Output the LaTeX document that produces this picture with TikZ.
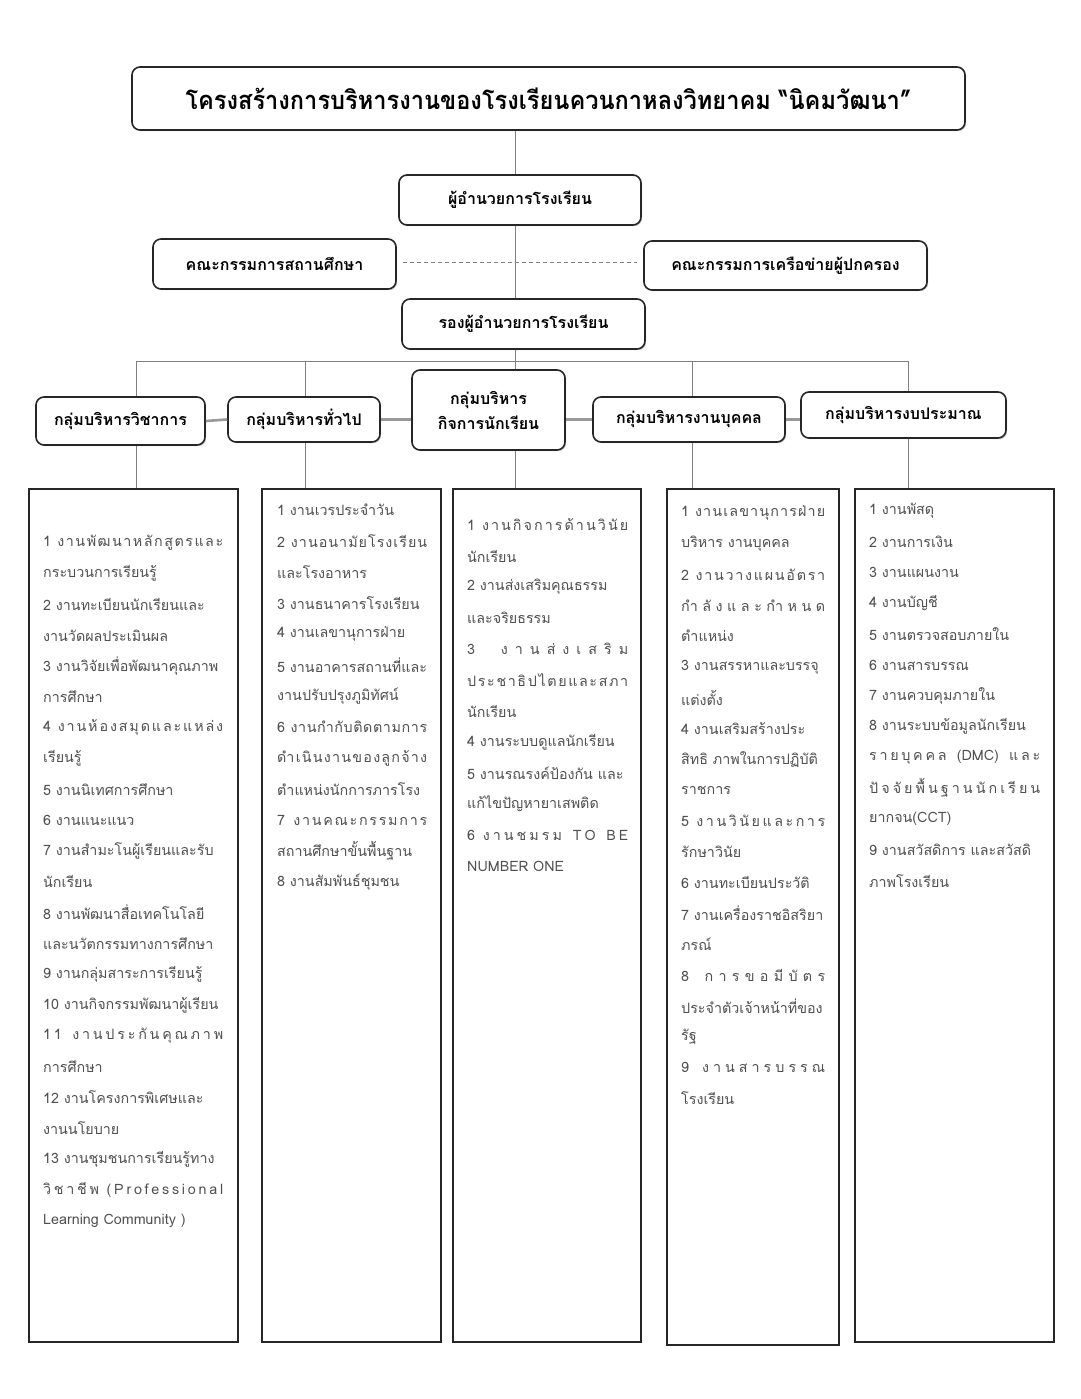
\documentclass[tikz,border=0pt]{standalone}
\usepackage{fontspec}
\setmainfont[Script=Thai]{Loma}
\usetikzlibrary{shadows}
\definecolor{txtgray}{HTML}{505050}
\definecolor{linegray}{HTML}{808080}
\def\J{\hfill}
\begin{document}
\begin{tikzpicture}[x=1pt,y=-1pt,
  rbox/.style={draw=black!85, line width=1.6pt, rounded corners=8pt, fill=white,
     drop shadow={shadow xshift=1.2pt, shadow yshift=-1.2pt, fill=black!35, opacity=0.6},
     font=\bfseries\fontsize{16}{19}\selectfont, align=center, inner sep=2pt},
  lbox/.style={draw=black!85, line width=1.6pt, fill=white},
  lt/.style={anchor=west, inner sep=0pt, text=txtgray, font=\fontsize{14.3}{16}\selectfont},
  thin/.style={draw=linegray, line width=0.9pt},
  glink/.style={draw=black!40, line width=2.6pt}
]
\useasboundingbox (0,0) rectangle (1080,1399);
\fill[white] (0,0) rectangle (1080,1399);

\coordinate (trunk) at (515,0);
\coordinate (busL) at (136,361);
\coordinate (busR) at (908,361);
\coordinate (b2) at (305,361);
\coordinate (b4) at (692,361);

% connectors first (under boxes)
\path (548.5,130) coordinate (tS) (515,175) coordinate (dN);
% title and top nodes
\node[rbox, minimum width=833pt, minimum height=63pt, font=\bfseries\fontsize{25.5}{29}\selectfont] (title) at (548.5,98.5) {\scalebox{0.925}[1]{โครงสร้างการบริหารงานของโรงเรียนควนกาหลงวิทยาคม “นิคมวัฒนา”}};
\node[rbox, minimum width=243pt, minimum height=50pt] (cL) at (274.5,264) {คณะกรรมการสถานศึกษา};
\node[rbox, minimum width=283pt, minimum height=49pt] (cR) at (785.5,265.5) {คณะกรรมการเครือข่ายผู้ปกครอง};
\path (cL.east) ++(6,-2) coordinate (dA);
\path (cR.west) ++(-6,-3.5) coordinate (dB);
\draw[thin, dash pattern=on 4pt off 3pt] (dA) -- (dB);
\draw[thin] (title.south -| trunk) -- (515,175) coordinate (dirtop);
\draw[thin] (515,225) coordinate (dirbot) -- (515,299);
\draw[thin] (515,349) -- (515,370);
\draw[thin] (busL) -- (busR);

\node[rbox, minimum width=242pt, minimum height=50pt] (dir) at (520,200) {ผู้อำนวยการโรงเรียน};
\node[rbox, minimum width=243pt, minimum height=50pt] (dep) at (523.5,324) {รองผู้อำนวยการโรงเรียน};

% groups
\node[rbox, minimum width=169pt, minimum height=48pt] (g1) at (120.5,421) {กลุ่มบริหารวิชาการ};
\node[rbox, minimum width=152pt, minimum height=45pt] (g2) at (304,419.5) {กลุ่มบริหารทั่วไป};
\node[rbox, minimum width=153pt, minimum height=80pt, align=center] (g3) at (488.5,410) {กลุ่มบริหาร\\[6pt]กิจการนักเรียน};
\node[rbox, minimum width=192pt, minimum height=45pt] (g4) at (689,419.5) {กลุ่มบริหารงานบุคคล};
\node[rbox, minimum width=205pt, minimum height=46pt] (g5) at (903.5,415) {กลุ่มบริหารงบประมาณ};

% list boxes
\node[lbox, minimum width=209pt, minimum height=853pt] (l1) at (133.5,915.5) {};
\node[lbox, minimum width=179pt, minimum height=853pt] (l2) at (351.5,915.5) {};
\node[lbox, minimum width=188pt, minimum height=853pt] (l3) at (547,915.5) {};
\node[lbox, minimum width=172pt, minimum height=856pt] (l4) at (753,917) {};
\node[lbox, minimum width=199pt, minimum height=853pt] (l5) at (954.5,915.5) {};

% connectors
\draw[thin] (busL) -- (g1.north -| busL);
\draw[thin] (b2) -- (g2.north -| b2);
\draw[thin] (b4) -- (g4.north -| b4);
\draw[thin] (busR) -- (g5.north -| busR);
\draw[glink] (g1.east) -- (g2.west);
\draw[glink] (g2.east) -- (g3.west |- g2.east);
\draw[glink] (g3.east |- g4.west) -- (g4.west);
\draw[glink] (g4.east) -- (g5.west |- g4.east);
\draw[thin] (g1.south -| busL) -- (l1.north -| busL);
\draw[thin] (g2.south -| b2) -- (l2.north -| b2);
\draw[thin] (g3.south -| trunk) -- (l3.north -| trunk);
\draw[thin] (g4.south -| b4) -- (l4.north -| b4);
\draw[thin] (g5.south -| busR) -- (l5.north -| busR);

% column 1
\foreach \t [count=\i] in {
 {\makebox[180pt][s]{1\ \J ง\J า\J น\J พั\J ฒ\J น\J า\J ห\J ลั\J ก\J สู\J ต\J ร\J แ\J ล\J ะ}},
 {กระบวนการเรียนรู้},
 {2 งานทะเบียนนักเรียนและ},
 {งานวัดผลประเมินผล},
 {3 งานวิจัยเพื่อพัฒนาคุณภาพ},
 {การศึกษา},
 {\makebox[180pt][s]{4\ \J ง\J า\J น\J ห้\J อ\J ง\J ส\J มุ\J ด\J แ\J ล\J ะ\J แ\J ห\J ล่\J ง}},
 {เรียนรู้},
 {5 งานนิเทศการศึกษา},
 {6 งานแนะแนว},
 {7 งานสำมะโนผู้เรียนและรับ},
 {นักเรียน},
 {8 งานพัฒนาสื่อเทคโนโลยี},
 {และนวัตกรรมทางการศึกษา},
 {9 งานกลุ่มสาระการเรียนรู้},
 {10 งานกิจกรรมพัฒนาผู้เรียน},
 {\makebox[180pt][s]{1\J 1\ \J \J ง\J า\J น\J ป\J ร\J ะ\J กั\J น\J คุ\J ณ\J ภ\J า\J พ}},
 {การศึกษา},
 {12 งานโครงการพิเศษและ},
 {งานนโยบาย},
 {13 งานชุมชนการเรียนรู้ทาง},
 {\makebox[180pt][s]{วิ\J ช\J า\J ชี\J พ\ \J (\J P\J r\J o\J f\J e\J s\J s\J i\J o\J n\J a\J l}},
 {Learning Community )}}
 \node[lt] (c1-\i) at (43, 543+\i*30.8-30.8) {\t};

% column 2
\foreach \t [count=\i] in {
 {1 งานเวรประจำวัน},
 {\makebox[150pt][s]{2\ \J ง\J า\J น\J อ\J น\J า\J มั\J ย\J โ\J ร\J ง\J เ\J รี\J ย\J น}},
 {และโรงอาหาร},
 {3 งานธนาคารโรงเรียน},
 {4 งานเลขานุการฝ่าย},
 {5 งานอาคารสถานที่และ},
 {งานปรับปรุงภูมิทัศน์},
 {\makebox[150pt][s]{6\ \J ง\J า\J น\J กำ\J กั\J บ\J ติ\J ด\J ต\J า\J ม\J ก\J า\J ร}},
 {\makebox[150pt][s]{ดำ\J เ\J นิ\J น\J ง\J า\J น\J ข\J อ\J ง\J ลู\J ก\J จ้\J า\J ง}},
 {ตำแหน่งนักการภารโรง},
 {\makebox[150pt][s]{7\ \J \J ง\J า\J น\J ค\J ณ\J ะ\J ก\J ร\J ร\J ม\J ก\J า\J ร}},
 {สถานศึกษาขั้นพื้นฐาน},
 {8 งานสัมพันธ์ชุมชน}}
 \node[lt] (c2-\i) at (277, 510+\i*31-31) {\t};

% column 3
\foreach \t [count=\i] in {
 {\makebox[161pt][s]{1\ \J ง\J า\J น\J กิ\J จ\J ก\J า\J ร\J ด้\J า\J น\J วิ\J นั\J ย}},
 {นักเรียน},
 {2 งานส่งเสริมคุณธรรม},
 {และจริยธรรม},
 {\makebox[161pt][s]{3\ \J \J \J ง\J า\J น\J ส่\J ง\J เ\J ส\J ริ\J ม}},
 {\makebox[161pt][s]{ป\J ร\J ะ\J ช\J า\J ธิ\J ป\J ไ\J ต\J ย\J แ\J ล\J ะ\J ส\J ภ\J า}},
 {นักเรียน},
 {4 งานระบบดูแลนักเรียน},
 {5 งานรณรงค์ป้องกัน และ},
 {แก้ไขปัญหายาเสพติด},
 {\makebox[161pt][s]{6\ \J ง\J า\J น\J ช\J ม\J ร\J ม\ \J \J T\J O\ \J \J B\J E}},
 {NUMBER ONE}}
 \node[lt] (c3-\i) at (467, 525+\i*31-31) {\t};

% column 4
\foreach \t [count=\i] in {
 {\makebox[144pt][s]{1\ \J ง\J า\J น\J เ\J ล\J ข\J า\J นุ\J ก\J า\J ร\J ฝ่\J า\J ย}},
 {บริหาร งานบุคคล},
 {\makebox[144pt][s]{2\ \J ง\J า\J น\J ว\J า\J ง\J แ\J ผ\J น\J อั\J ต\J ร\J า}},
 {\makebox[144pt][s]{กำ\J ลั\J ง\J แ\J ล\J ะ\J กำ\J ห\J น\J ด}},
 {ตำแหน่ง},
 {3 งานสรรหาและบรรจุ},
 {แต่งตั้ง},
 {4 งานเสริมสร้างประ},
 {สิทธิ ภาพในการปฏิบัติ},
 {ราชการ},
 {\makebox[144pt][s]{5\ \J ง\J า\J น\J วิ\J นั\J ย\J แ\J ล\J ะ\J ก\J า\J ร}},
 {รักษาวินัย},
 {6 งานทะเบียนประวัติ},
 {7 งานเครื่องราชอิสริยา},
 {ภรณ์},
 {\makebox[144pt][s]{8\ \J \J ก\J า\J ร\J ข\J อ\J มี\J บั\J ต\J ร}},
 {ประจำตัวเจ้าหน้าที่ของ},
 {รัฐ},
 {\makebox[144pt][s]{9\ \J \J ง\J า\J น\J ส\J า\J ร\J บ\J ร\J ร\J ณ}},
 {โรงเรียน}}
 \node[lt] (c4-\i) at (681, 513+\i*30.8-30.8) {\t};

% column 5
\foreach \t [count=\i] in {
 {1 งานพัสดุ},
 {2 งานการเงิน},
 {3 งานแผนงาน},
 {4 งานบัญชี},
 {5 งานตรวจสอบภายใน},
 {6 งานสารบรรณ},
 {7 งานควบคุมภายใน},
 {8 งานระบบข้อมูลนักเรียน},
 {\makebox[171pt][s]{ร\J า\J ย\J บุ\J ค\J ค\J ล\ \J \J (DMC)\ \J \J แ\J ล\J ะ}},
 {\makebox[171pt][s]{ปั\J จ\J จั\J ย\J พื้\J น\J ฐ\J า\J น\J นั\J ก\J เ\J รี\J ย\J น}},
 {ยากจน(CCT)},
 {9 งานสวัสดิการ และสวัสดิ},
 {ภาพโรงเรียน}}
 \node[lt] (c5-\i) at (869, 511+\i*30.8-30.8) {\t};
\end{tikzpicture}
\end{document}
